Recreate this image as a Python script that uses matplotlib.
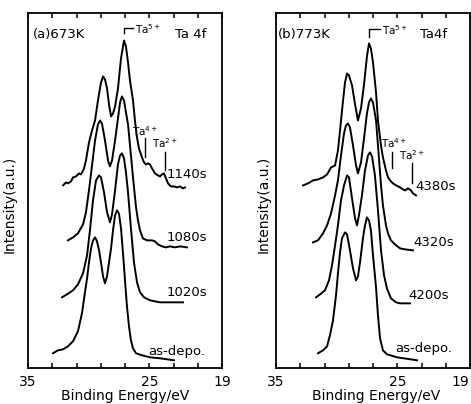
import matplotlib
matplotlib.use("Agg")
import matplotlib.pyplot as plt
from matplotlib import font_manager
from matplotlib.transforms import ScaledTranslation

# ---------------- data (binding energy / eV, stacked intensity / a.u.) ----------------
# panel (a) 673 K
a_1140_E = [32.11, 31.87, 31.70, 31.45, 31.29, 31.04, 30.79, 30.63, 30.38, 30.22, 29.97, 29.72,
            29.47, 29.23, 28.98, 28.81, 28.65, 28.48, 28.32, 28.15, 27.99, 27.82, 27.58, 27.33,
            27.08, 26.92, 26.75, 26.59, 26.34, 26.18, 26.01, 25.85, 25.60, 25.43, 25.27, 25.10,
            24.94, 24.77, 24.53, 24.28, 24.11, 23.95, 23.78, 23.62, 23.45, 23.21, 22.96, 22.71,
            22.46, 22.22, 22.05]
a_1140_I = [183, 186, 185, 187, 191, 192, 195, 194, 200, 208, 226, 238,
            248, 268, 286, 292, 289, 280, 264, 252, 255, 262, 280, 310,
            328, 322, 306, 288, 268, 248, 231, 220, 211, 206, 204, 205,
            204, 200, 195, 193, 192, 194, 195, 190, 185, 182, 182, 181,
            182, 180, 181]

a_1080_E = [31.70, 31.29, 30.88, 30.46, 30.22, 29.97, 29.72, 29.47, 29.23, 29.06, 28.90, 28.65,
            28.40, 28.24, 28.07, 27.82, 27.58, 27.41, 27.25, 27.08, 26.92, 26.75, 26.51, 26.34,
            26.09, 25.93, 25.76, 25.52, 25.19, 24.77, 24.53, 24.28, 23.95, 23.62, 23.29, 22.88,
            22.46, 21.89]
a_1080_I = [128, 131, 135, 144, 156, 178, 203, 228, 244, 248, 245, 228,
            208, 202, 208, 228, 250, 266, 272, 268, 256, 244, 213, 191,
            161, 148, 138, 130, 128, 128, 127, 124, 122, 121, 122, 121,
            122, 121]

a_1020_E = [32.20, 31.78, 31.29, 30.88, 30.46, 30.13, 29.89, 29.64, 29.39, 29.14, 28.98, 28.73,
            28.48, 28.24, 28.07, 27.82, 27.58, 27.41, 27.25, 27.08, 26.92, 26.75, 26.51, 26.26,
            26.01, 25.76, 25.43, 24.94, 24.11, 23.29, 22.22]
a_1020_I = [71, 74, 78, 84, 95, 113, 138, 168, 188, 193, 191, 176,
            156, 146, 154, 178, 204, 213, 215, 210, 196, 176, 140, 106,
            86, 76, 71, 68, 66, 66, 66]

a_dep_E = [32.94, 32.53, 32.11, 31.70, 31.29, 30.88, 30.55, 30.30, 30.13, 29.97, 29.80, 29.64,
           29.47, 29.31, 29.14, 28.98, 28.81, 28.65, 28.48, 28.32, 28.15, 27.99, 27.82, 27.66,
           27.50, 27.33, 27.17, 27.00, 26.84, 26.67, 26.51, 26.34, 26.09, 25.60, 24.94, 24.11,
           22.96]
a_dep_I = [15, 18, 19, 22, 27, 37, 55, 76, 90, 106, 120, 128,
           131, 127, 118, 106, 92, 85, 92, 106, 120, 138, 153, 158,
           155, 140, 116, 88, 62, 42, 28, 20, 15, 13, 11, 10,
           8]

# panel (b) 773 K
b_4380_E = [32.77, 32.36, 31.95, 31.54, 31.12, 30.79, 30.46, 30.13, 29.89, 29.72, 29.47, 29.31,
            29.14, 28.98, 28.73, 28.48, 28.24, 27.99, 27.74, 27.50, 27.33, 27.17, 27.00, 26.75,
            26.59, 26.34, 26.18, 25.93, 25.76, 25.52, 25.35, 25.10, 24.77, 24.53, 24.36, 24.11,
            23.87, 23.70, 23.45]
b_4380_I = [183, 185, 188, 189, 191, 194, 201, 203, 218, 238, 268, 286,
            295, 293, 283, 264, 248, 260, 284, 312, 325, 320, 306, 276,
            248, 223, 211, 198, 191, 187, 185, 183, 181, 179, 178, 180,
            178, 175, 173]

b_4320_E = [31.95, 31.54, 31.12, 30.79, 30.46, 30.13, 29.89, 29.64, 29.39, 29.23, 29.06, 28.90,
            28.65, 28.40, 28.24, 27.99, 27.74, 27.50, 27.33, 27.17, 27.00, 26.75, 26.59, 26.34,
            26.18, 25.93, 25.76, 25.52, 25.10, 24.77, 24.36, 23.70]
b_4320_I = [126, 128, 135, 143, 155, 173, 188, 213, 235, 243, 245, 241,
            223, 203, 195, 206, 230, 255, 266, 270, 266, 248, 223, 183,
            163, 143, 135, 128, 123, 120, 119, 118]

b_4200_E = [31.70, 31.37, 30.96, 30.63, 30.38, 30.13, 29.89, 29.64, 29.39, 29.14, 28.98, 28.73,
            28.48, 28.32, 28.16, 27.91, 27.66, 27.41, 27.25, 27.08, 26.84, 26.59, 26.34, 26.09,
            25.85, 25.52, 25.10, 24.77, 23.95]
b_4200_I = [71, 74, 78, 88, 103, 123, 143, 168, 183, 193, 191, 170,
            150, 143, 153, 173, 198, 213, 216, 212, 193, 158, 118, 93,
            80, 70, 66, 65, 65]

b_dep_E = [31.54, 31.12, 30.79, 30.55, 30.30, 30.05, 29.89, 29.72, 29.56, 29.31, 29.14, 28.90,
           28.65, 28.40, 28.24, 28.07, 27.83, 27.66, 27.50, 27.33, 27.17, 27.00, 26.75, 26.59,
           26.42, 26.18, 25.85, 25.02, 23.37]
b_dep_I = [15, 18, 22, 33, 48, 73, 95, 116, 130, 136, 134, 118,
           100, 88, 92, 106, 130, 143, 151, 148, 138, 113, 81, 53,
           30, 18, 14, 11, 8]

panel_titles = ["(a)673K", "(b)773K"]
panel_core = ["Ta 4f", "Ta4f"]
a_labels = ["1140s", "1080s", "1020s", "as-depo."]
b_labels = ["4380s", "4320s", "4200s", "as-depo."]
tick_values = [35, 33, 31, 29, 27, 25, 23, 21, 19]
tick_labels = ["35", "", "", "", "", "25", "", "", "19"]
x_title = "Binding Energy/eV"
y_title = "Intensity(a.u.)"

# ---------------- font ----------------
avail = {f.name for f in font_manager.fontManager.ttflist}
fam = "DejaVu Sans"
for cand in ["DejaVu Sans Condensed", "Liberation Sans Narrow"]:
    if cand in avail:
        fam = cand
        break
plt.rcParams["font.family"] = [fam, "DejaVu Sans"]
plt.rcParams["mathtext.default"] = "regular"

FS = 9.5
LW = 1.4

fig = plt.figure(figsize=(4.71, 4.04), dpi=100)
W, H = 471.0, 404.0


def add_ax(left_px):
    return fig.add_axes([left_px / W, (H - 368.3) / H, 194 / W, (368.3 - 12.5) / H])


axa = add_ax(28)
axb = add_ax(276)

for ax in (axa, axb):
    ax.set_xlim(35, 19)
    ax.set_ylim(0, 356)
    ax.set_yticks([])
    ax.set_xticks(tick_values)
    ax.set_xticklabels(tick_labels)
    ax.tick_params(axis="x", direction="in", top=True, length=3.8, width=1.1,
                   pad=4.5, labelsize=FS + 0.5)
    for s in ax.spines.values():
        s.set_linewidth(1.3)

# shift the right-most label of panel (b) inward so it stays on the canvas
lab19 = axb.get_xticklabels()[-1]
lab19.set_horizontalalignment("right")
lab19.set_transform(lab19.get_transform() + ScaledTranslation(-1 / 100, 0, fig.dpi_scale_trans))

curves_a = [(a_1140_E, a_1140_I), (a_1080_E, a_1080_I), (a_1020_E, a_1020_I), (a_dep_E, a_dep_I)]
curves_b = [(b_4380_E, b_4380_I), (b_4320_E, b_4320_I), (b_4200_E, b_4200_I), (b_dep_E, b_dep_I)]
for E, I in curves_a:
    axa.plot(E, I, color="black", lw=LW, solid_joinstyle="round")
for E, I in curves_b:
    axb.plot(E, I, color="black", lw=LW, solid_joinstyle="round")

# spectrum labels
a_lab_pos = [(23.54, 194), (23.54, 131), (23.54, 76), (25.10, 17)]
b_lab_pos = [(23.54, 182), (23.70, 126), (24.11, 73), (25.19, 20)]
for (x, y), t in zip(a_lab_pos, a_labels):
    axa.text(x, y, t, ha="left", va="center", fontsize=FS)
for (x, y), t in zip(b_lab_pos, b_labels):
    axb.text(x, y, t, ha="left", va="center", fontsize=FS)

# panel headers
axa.text(0.026, 0.938, panel_titles[0], transform=axa.transAxes, ha="left", va="center", fontsize=FS)
axa.text(0.758, 0.938, panel_core[0], transform=axa.transAxes, ha="left", va="center", fontsize=FS)
axb.text(0.010, 0.938, panel_titles[1], transform=axb.transAxes, ha="left", va="center", fontsize=FS)
axb.text(0.742, 0.938, panel_core[1], transform=axb.transAxes, ha="left", va="center", fontsize=FS)

SFS = 7.5
# Ta5+ brackets
axa.plot([27.08, 27.08, 26.34], [335, 340.5, 340.5], color="black", lw=1.0)
axa.text(26.20, 339, "Ta$^{5+}$", ha="left", va="center", fontsize=SFS)
axb.plot([27.30, 27.30, 26.42], [331, 339.7, 339.7], color="black", lw=1.0)
axb.text(26.28, 338, "Ta$^{5+}$", ha="left", va="center", fontsize=SFS)

# Ta4+ / Ta2+ markers
axa.plot([25.35, 25.35], [211, 230], color="black", lw=1.0)
axa.text(25.30, 237, "Ta$^{4+}$", ha="center", va="center", fontsize=SFS)
axa.plot([23.74, 23.74], [198, 216], color="black", lw=1.0)
axa.text(23.70, 225, "Ta$^{2+}$", ha="center", va="center", fontsize=SFS)

axb.plot([25.41, 25.41], [200, 216], color="black", lw=1.0)
axb.text(25.25, 225, "Ta$^{4+}$", ha="center", va="center", fontsize=SFS)
axb.plot([23.81, 23.81], [185, 205], color="black", lw=1.0)
axb.text(23.74, 213, "Ta$^{2+}$", ha="center", va="center", fontsize=SFS)

# axis titles
fig.text(125 / W, 1 - 396 / H, x_title, ha="center", va="center", fontsize=FS + 0.5)
fig.text(376 / W, 1 - 396 / H, x_title, ha="center", va="center", fontsize=FS + 0.5)
fig.text(10 / W, 1 - 204 / H, y_title, ha="center", va="center", rotation=90, fontsize=FS + 0.5)
fig.text(264 / W, 1 - 204 / H, y_title, ha="center", va="center", rotation=90, fontsize=FS + 0.5)

fig.savefig("out.png", dpi=100, facecolor="white")
